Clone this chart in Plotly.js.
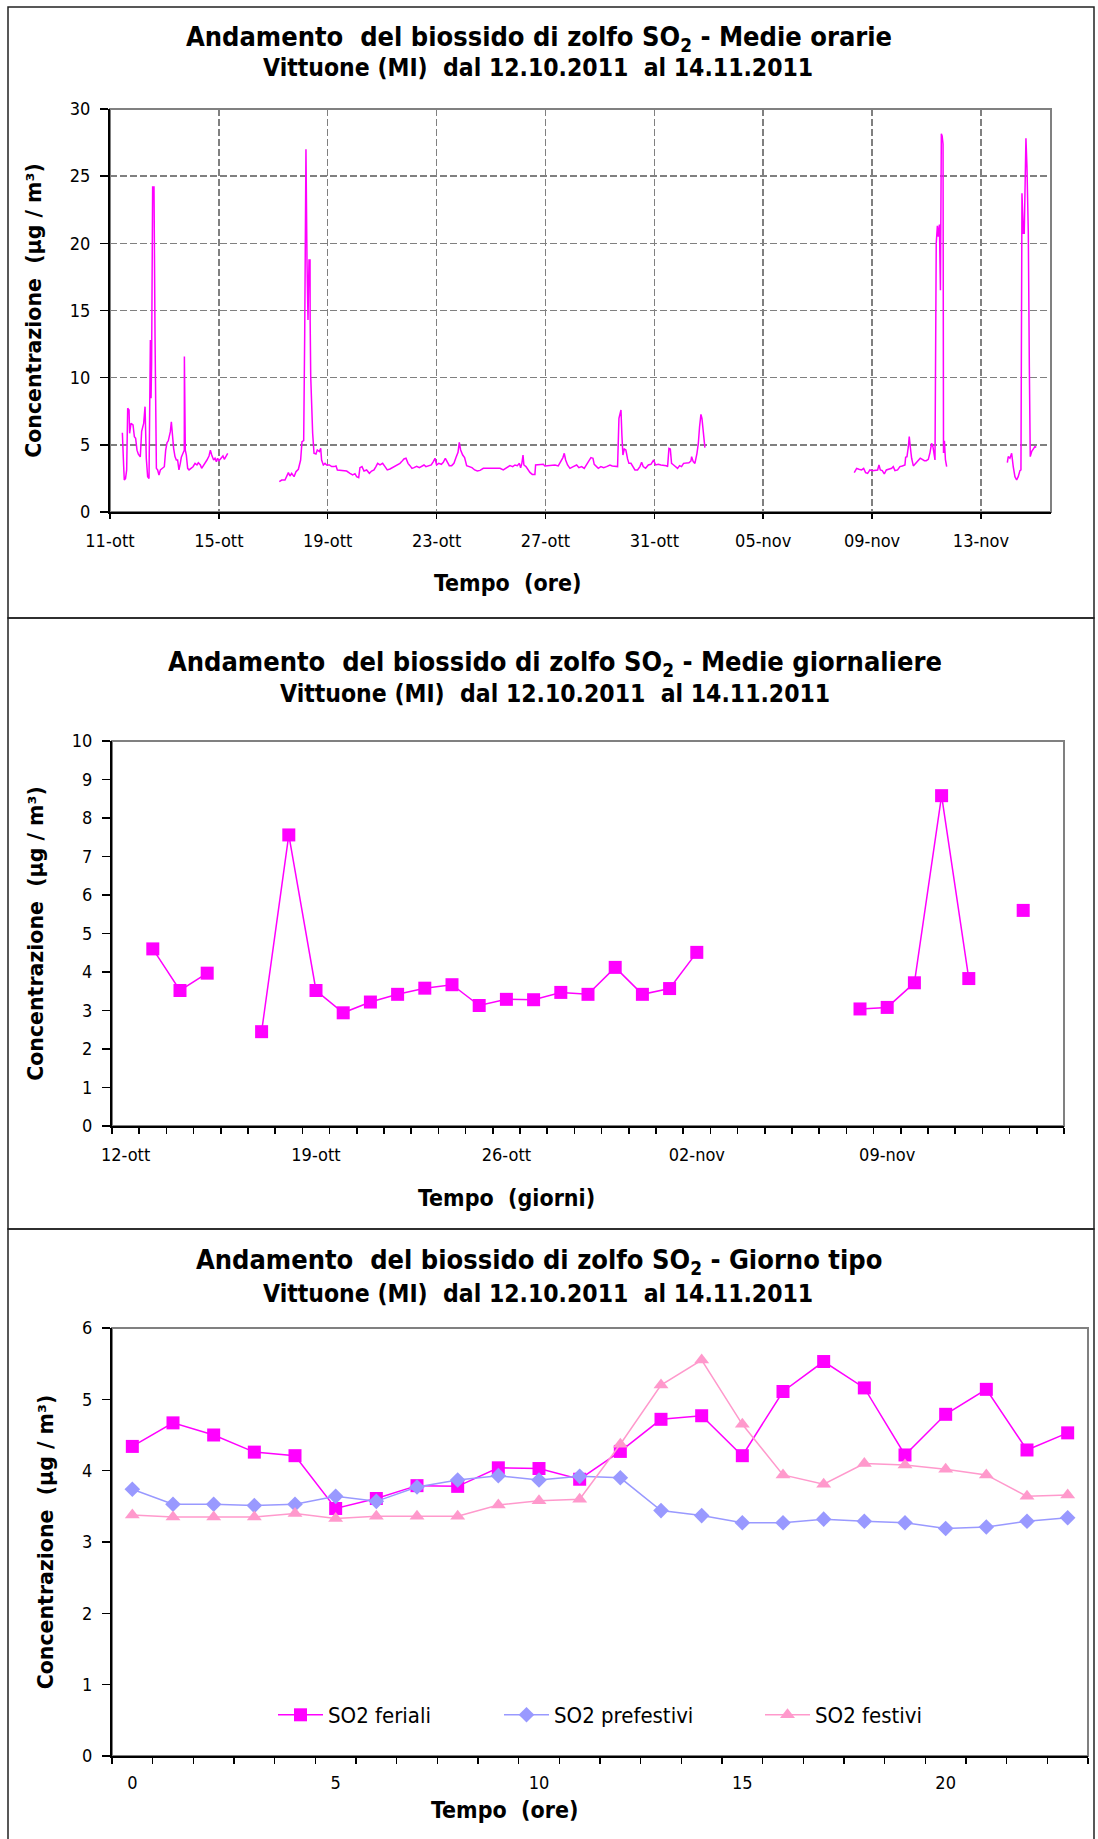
<!DOCTYPE html>
<html>
<head>
<meta charset="utf-8">
<script src="https://cdn.plot.ly/plotly-3.0.1.min.js"></script>
<style>
html,body{margin:0;padding:0;background:#fff;}
#chart{width:1098px;height:1839px;}
</style>
</head>
<body>
<div id="chart"></div>
<script>
// ---------------- DATA ----------------
// Panel 1: hourly means (x = hours elapsed from 11-ott 00:00), null = missing data
const hourlyHours = [
10.9,11.5,12.0,12.6,13.7,14.7,15.6,16.8,17.3,18.5,20.3,21.5,22.6,23.8,25.0,26.7,27.9,29.7,30.9,32.0,33.2,34.4,35.0,35.6,36.2,36.7,37.6,38.8,39.7,40.9,42.0,43.2,44.4,46.1,47.9,49.1,50.3,51.4,53.2,54.1,55.0,56.1,57.3,58.5,59.6,60.8,62.0,62.9,65.5,65.6,66.4,67.3,68.5,69.7,71.4,73.2,75.0,76.7,77.9,79.7,80.8,82.6,83.8,85.5,87.3,88.5,89.7,91.4,92.6,93.8,94.9,96.1,97.9,99.6,100.8,102.6,103.8,
104.5,
149.3,151.4,154.3,157.3,158.7,160.2,162.3,164.0,166.1,168.1,169.3,170.8,171.7,172.8,173.7,174.6,175.5,176.4,176.5,177.0,178.7,179.9,181.6,182.8,184.6,185.8,186.6,188.1,189.6,191.0,193.4,195.5,197.5,199.3,200.5,
202.8,205.7,208.7,211.6,214.0,216.0,217.5,219.3,220.4,222.2,224.0,226.3,228.7,230.7,232.8,234.5,236.0,238.1,240.4,242.5,244.5,246.9,249.2,251.3,253.4,255.7,257.2,259.2,261.0,262.8,264.5,266.3,268.1,270.4,272.8,274.8,276.9,278.6,281.0,283.3,285.1,286.6,288.0,289.8,292.2,293.9,295.7,297.4,299.2,301.3,303.3,305.1,306.9,308.0,309.2,311.0,312.7,314.5,316.9,319.2,321.6,323.9,326.3,329.2,332.1,338.0,343.9,346.8,349.8,352.7,355.1,357.1,359.2,361.0,362.1,363.2,364.2,365.0,366.8,
368.3,370.3,372.4,374.7,375.3,377.7,380.0,382.1,383.5,386.5,389.4,392.4,395.3,397.6,399.4,400.6,401.8,403.5,405.6,408.5,411.5,413.5,415.9,418.2,420.3,422.3,424.1,425.9,427.0,428.8,430.6,432.9,435.3,437.9,440.9,442.9,445.3,447.6,448.8,450.0,450.6,451.4,452.3,453.5,454.9,456.4,457.6,459.4,461.4,462.9,465.2,467.3,468.8,470.2,472.3,474.7,477.0,479.4,481.1,483.5,485.8,488.2,490.5,491.7,492.9,494.1,495.2,497.0,498.8,500.5,502.3,504.0,505.8,508.2,510.5,512.3,512.9,514.3,515.8,517.6,518.8,519.9,521.1,522.0,523.2,524.6,
525.5,
656.3,658.4,660.4,662.8,664.6,666.3,668.1,670.1,672.2,674.6,676.9,678.1,679.3,681.0,682.8,684.6,686.9,689.3,690.7,692.2,694.5,696.6,698.7,701.0,701.6,702.8,704.0,704.8,705.7,706.9,708.4,709.8,711.3,712.8,714.5,716.3,718.1,719.8,721.6,723.1,724.5,725.7,726.9,727.5,728.6,729.6,730.4,731.4,732.3,733.1,733.8,734.6,735.0,735.8,736.7,737.8,
739.0,
791.3,792.1,793.6,795.1,796.5,798.0,799.5,800.9,802.4,803.3,804.2,805.4,806.2,806.8,807.7,808.6,809.8,810.7,811.5,812.7,814.2,815.6,816.8
];
const hourlyConc = [
5.9,3.62,3.5,2.38,2.5,3.13,7.72,7.6,5.86,6.6,6.48,5.6,5.48,4.6,4.3,4.1,6.0,6.6,7.84,4.0,2.63,2.5,8.46,12.8,8.46,11.07,24.2,24.2,13.05,3.25,3.13,2.75,3.13,3.25,3.37,4.6,5.16,5.3,5.98,6.72,5.48,4.74,4.12,3.87,3.87,3.13,3.62,4.07,4.6,11.57,4.6,4.24,3.25,3.13,3.25,3.37,3.62,3.5,3.67,3.5,3.25,3.5,3.57,3.87,4.17,4.6,4.24,3.87,4.0,3.75,4.0,3.82,4.0,4.17,3.92,4.24,4.37,
null,
2.26,2.38,2.38,2.93,2.68,2.88,2.63,3.0,3.18,3.87,5.24,5.31,13.3,27.0,18.76,14.3,18.76,18.76,14.3,10.08,5.86,4.37,4.32,4.62,4.5,4.74,3.87,3.5,3.62,3.5,3.5,3.38,3.38,3.43,3.13,
3.1,3.05,3.05,2.88,2.76,2.85,2.63,2.56,3.3,3.38,3.05,3.13,2.88,3.05,3.13,3.38,3.62,3.5,3.62,3.38,3.13,3.2,3.3,3.45,3.5,3.62,3.75,3.95,4.0,3.62,3.45,3.25,3.3,3.4,3.3,3.38,3.5,3.38,3.43,3.5,3.75,4.0,3.5,3.62,3.55,3.7,4.0,3.75,3.45,3.45,3.62,4.05,4.44,5.19,4.62,4.24,4.05,3.45,3.38,3.3,3.13,3.05,3.1,3.25,3.25,3.25,3.25,3.13,3.3,3.45,3.38,3.5,3.45,3.62,3.3,3.62,4.24,3.5,3.38,
3.2,2.95,2.8,2.8,3.5,3.5,3.55,3.55,3.43,3.45,3.43,3.5,3.43,3.75,4.05,4.37,3.87,3.5,3.25,3.38,3.5,3.3,3.38,3.25,3.5,3.8,4.05,4.0,3.55,3.38,3.25,3.38,3.3,3.38,3.5,3.43,3.38,3.38,6.97,7.35,7.6,5.73,4.24,4.69,4.62,3.95,3.62,3.62,3.38,3.13,3.13,3.38,3.7,3.38,3.25,3.5,3.55,3.87,3.5,3.55,3.5,3.5,3.45,3.38,4.74,4.69,3.62,3.5,3.38,3.25,3.45,3.38,3.62,3.62,3.67,3.8,4.12,3.75,3.62,4.37,5.11,6.35,7.27,6.97,5.73,4.79,
null,
2.93,3.25,3.18,3.13,3.25,2.93,2.88,3.13,3.08,3.08,3.13,3.5,3.13,3.08,2.83,3.13,3.18,3.25,3.38,3.08,3.13,3.38,3.43,3.5,4.07,4.12,4.86,5.61,4.86,4.0,3.43,3.57,3.67,3.82,4.0,3.92,3.82,3.82,3.92,4.42,5.11,4.86,4.37,3.87,20.0,21.3,20.5,21.4,16.5,28.15,28.0,27.4,4.4,5.3,3.9,3.38,
null,
3.67,4.12,4.0,4.37,3.38,2.63,2.38,2.63,3.08,3.13,23.73,20.75,20.75,23.7,27.82,25.7,20.75,10.82,4.12,4.49,4.74,4.86,4.82
];
const hourlyTickHours = [0, 96, 192, 288, 384, 480, 576, 672, 768];
const hourlyTickLabels = ["11-ott","15-ott","19-ott","23-ott","27-ott","31-ott","05-nov","09-nov","13-nov"];

// Panel 2: daily means, one category per day from 12-ott (index 0) to 15-nov (index 34)
const dailyIndex = [0,1,2,3,4,5,6,7,8,9,10,11,12,13,14,15,16,17,18,19,20,21,22,23,24,25,26,27,28,29,30,31,32,33,34];
const dailyConc = [null,4.6,3.52,3.97,null,2.45,7.56,3.52,2.94,3.22,3.42,3.58,3.67,3.13,3.29,3.28,3.47,3.42,4.12,3.42,3.57,4.51,
                   null,null,null,null,null,3.04,3.08,3.72,8.58,3.83,null,5.6,null];
const dailyTickIndex = [0, 7, 14, 21, 28];
const dailyTickLabels = ["12-ott","19-ott","26-ott","02-nov","09-nov"];

// Panel 3: typical day (hours 0..23)
const oreGiorno = [0,1,2,3,4,5,6,7,8,9,10,11,12,13,14,15,16,17,18,19,20,21,22,23];
const so2Feriali =    [4.34,4.67,4.50,4.26,4.21,3.47,3.61,3.79,3.78,4.04,4.03,3.88,4.27,4.72,4.77,4.21,5.11,5.53,5.16,4.22,4.79,5.14,4.29,4.53];
const so2Prefestivi = [3.74,3.53,3.53,3.51,3.53,3.64,3.57,3.77,3.87,3.93,3.87,3.92,3.90,3.44,3.37,3.27,3.27,3.32,3.29,3.27,3.19,3.21,3.29,3.34];
const so2Festivi =    [3.38,3.35,3.35,3.35,3.40,3.33,3.36,3.36,3.36,3.52,3.58,3.60,4.37,5.20,5.55,4.65,3.94,3.81,4.10,4.08,4.02,3.94,3.64,3.66];

// ---------------- STYLE ----------------
const W = 1098, H = 1839;
const px = v => v / W;
const py = v => 1 - v / H;
const TICKFONT = {family: "DejaVu Sans Condensed, DejaVu Sans, sans-serif", size: 18, color: "#000"};
const TITLEFAM = "DejaVu Sans Condensed, DejaVu Sans, sans-serif";
const YTITLEFONT = {family: "DejaVu Sans, Verdana, sans-serif", size: 20.5, color: "#000"};
const MAG = "#FF00FF", BLU = "#9999FF", PNK = "#FF99CC";
const NB = "\u00A0";

const traces = [
  {x: hourlyHours, y: hourlyConc, xaxis: "x", yaxis: "y", type: "scatter", mode: "lines",
   line: {color: MAG, width: 1.5}, connectgaps: false, showlegend: false},
  {x: dailyIndex, y: dailyConc, xaxis: "x2", yaxis: "y2", type: "scatter", mode: "lines+markers",
   line: {color: MAG, width: 1.5}, marker: {symbol: "square", size: 13, color: MAG}, connectgaps: false, showlegend: false},
  {x: oreGiorno, y: so2Feriali, xaxis: "x3", yaxis: "y3", type: "scatter", mode: "lines+markers", name: "SO2 feriali",
   line: {color: MAG, width: 1.5}, marker: {symbol: "square", size: 13, color: MAG}, legend: "legend"},
  {x: oreGiorno, y: so2Prefestivi, xaxis: "x3", yaxis: "y3", type: "scatter", mode: "lines+markers", name: "SO2 prefestivi",
   line: {color: BLU, width: 1.5}, marker: {symbol: "diamond", size: 12, color: BLU}, legend: "legend2"},
  {x: oreGiorno, y: so2Festivi, xaxis: "x3", yaxis: "y3", type: "scatter", mode: "lines+markers", name: "SO2 festivi",
   line: {color: PNK, width: 1.5}, marker: {symbol: "triangle-up", size: 13, color: PNK}, legend: "legend3"}
];

function yAxis(dom, rng, dtick, grid, anchor) {
  return {
    domain: dom, range: rng, dtick: dtick, tick0: 0, anchor: anchor,
    showline: true, linecolor: "#000", linewidth: 2,
    ticks: "outside", ticklen: 8, tickwidth: 1.5, tickcolor: "#000",
    ticklabelstandoff: 6,
    tickfont: TICKFONT, zeroline: false,
    showgrid: grid, gridcolor: "#808080", gridwidth: 1.5, griddash: "7px,3px",
    fixedrange: true
  };
}
const YTITLE = "<b>Concentrazione" + NB + NB + "(µg / m³)</b>";

const legendBase = {orientation: "h", yanchor: "middle", y: py(1715), xanchor: "left", itemwidth: 45,
  font: {family: TICKFONT.family, size: 22, color: "#000"}, bgcolor: "rgba(0,0,0,0)", borderwidth: 0};

const layout = {
  width: W, height: H, margin: {l: 0, r: 0, t: 0, b: 0},
  paper_bgcolor: "#fff", plot_bgcolor: "#fff",
  showlegend: true,
  xaxis: {
    domain: [px(110), px(1051)], range: [0, 829.8], anchor: "y",
    tickmode: "array", tickvals: hourlyTickHours, ticktext: hourlyTickLabels,
    showline: true, linecolor: "#000", linewidth: 2,
    ticks: "outside", ticklen: 5, tickwidth: 1.5, tickcolor: "#000", ticklabelstandoff: 6,
    tickfont: TICKFONT, zeroline: false,
    showgrid: true, gridcolor: "#808080", gridwidth: 1.5, griddash: "7px,3px", fixedrange: true
  },
  yaxis: Object.assign(yAxis([py(512), py(109)], [0, 30], 5, true, "x"),
    {title: {text: YTITLE, font: YTITLEFONT, standoff: 23}}),
  xaxis2: {
    domain: [px(112), px(1064)], range: [-0.5, 34.5], anchor: "y2",
    tickmode: "array", tickvals: dailyTickIndex, ticktext: dailyTickLabels,
    showline: true, linecolor: "#000", linewidth: 2,
    ticks: "", ticklabelstandoff: 11,
    minor: {ticks: "outside", ticklen: 6, tickwidth: 1.5, tickcolor: "#000", tick0: -0.5, dtick: 1, showgrid: false},
    tickfont: TICKFONT, zeroline: false, showgrid: false, fixedrange: true
  },
  yaxis2: Object.assign(yAxis([py(1126), py(741)], [0, 10], 1, false, "x2"),
    {title: {text: YTITLE, font: YTITLEFONT, standoff: 23}}),
  xaxis3: {
    domain: [px(112), px(1088)], range: [-0.5, 23.5], anchor: "y3",
    tickmode: "array", tickvals: [0, 5, 10, 15, 20], ticktext: ["0", "5", "10", "15", "20"],
    showline: true, linecolor: "#000", linewidth: 2,
    ticks: "", ticklabelstandoff: 9,
    minor: {ticks: "outside", ticklen: 6, tickwidth: 1.5, tickcolor: "#000", tick0: -0.5, dtick: 1, showgrid: false},
    tickfont: TICKFONT, zeroline: false, showgrid: false, fixedrange: true
  },
  yaxis3: Object.assign(yAxis([py(1756), py(1328)], [0, 6], 1, false, "x3"),
    {title: {text: YTITLE, font: YTITLEFONT, standoff: 23}}),
  legend: Object.assign({}, legendBase, {x: px(273)}),
  legend2: Object.assign({}, legendBase, {x: px(499)}),
  legend3: Object.assign({}, legendBase, {x: px(760)}),
  shapes: [
    // outer frames of the three panels
    {type: "rect", xref: "paper", yref: "paper", x0: px(8), x1: px(1094), y0: py(618), y1: py(7), line: {color: "#222", width: 1.5}},
    {type: "rect", xref: "paper", yref: "paper", x0: px(8), x1: px(1094), y0: py(1229), y1: py(618), line: {color: "#222", width: 1.5}},
    {type: "rect", xref: "paper", yref: "paper", x0: px(8), x1: px(1094), y0: py(1845), y1: py(1229), line: {color: "#222", width: 1.5}},
    // grey plot-area borders
    {type: "rect", xref: "x domain", yref: "y domain", x0: 0, x1: 1, y0: 0, y1: 1, line: {color: "#808080", width: 2}, layer: "below"},
    {type: "rect", xref: "x2 domain", yref: "y2 domain", x0: 0, x1: 1, y0: 0, y1: 1, line: {color: "#808080", width: 2}, layer: "below"},
    {type: "rect", xref: "x3 domain", yref: "y3 domain", x0: 0, x1: 1, y0: 0, y1: 1, line: {color: "#808080", width: 2}, layer: "below"}
  ],
  annotations: []
};

function ann(text, xPix, yPix, size) {
  return {text: text, x: px(xPix), y: py(yPix), xref: "paper", yref: "paper", xanchor: "center", yanchor: "middle",
    showarrow: false, font: {family: TITLEFAM, size: size, color: "#000"}};
}
const sub = "Vittuone" + NB + "(MI)" + NB + NB + "dal 12.10.2011" + NB + NB + "al 14.11.2011";
layout.annotations.push(
  ann("<b>Andamento" + NB + " del biossido di zolfo SO<sub>2</sub> - Medie orarie</b>", 539, 38, 27),
  ann("<b>" + sub + "</b>", 538, 68, 24.5),
  ann("<b>Tempo" + NB + NB + "(ore)</b>", 507, 583, 23),
  ann("<b>Andamento" + NB + " del biossido di zolfo SO<sub>2</sub> - Medie giornaliere</b>", 555, 663, 27),
  ann("<b>" + sub + "</b>", 555, 693, 24.5),
  ann("<b>Tempo" + NB + NB + "(giorni)</b>", 506, 1198, 23),
  ann("<b>Andamento" + NB + " del biossido di zolfo SO<sub>2</sub> - Giorno tipo</b>", 539, 1261, 27),
  ann("<b>" + sub + "</b>", 538, 1293, 24.5),
  ann("<b>Tempo" + NB + NB + "(ore)</b>", 504, 1810, 23)
);

Plotly.newPlot("chart", traces, layout, {staticPlot: true, displayModeBar: false});
</script>
</body>
</html>
